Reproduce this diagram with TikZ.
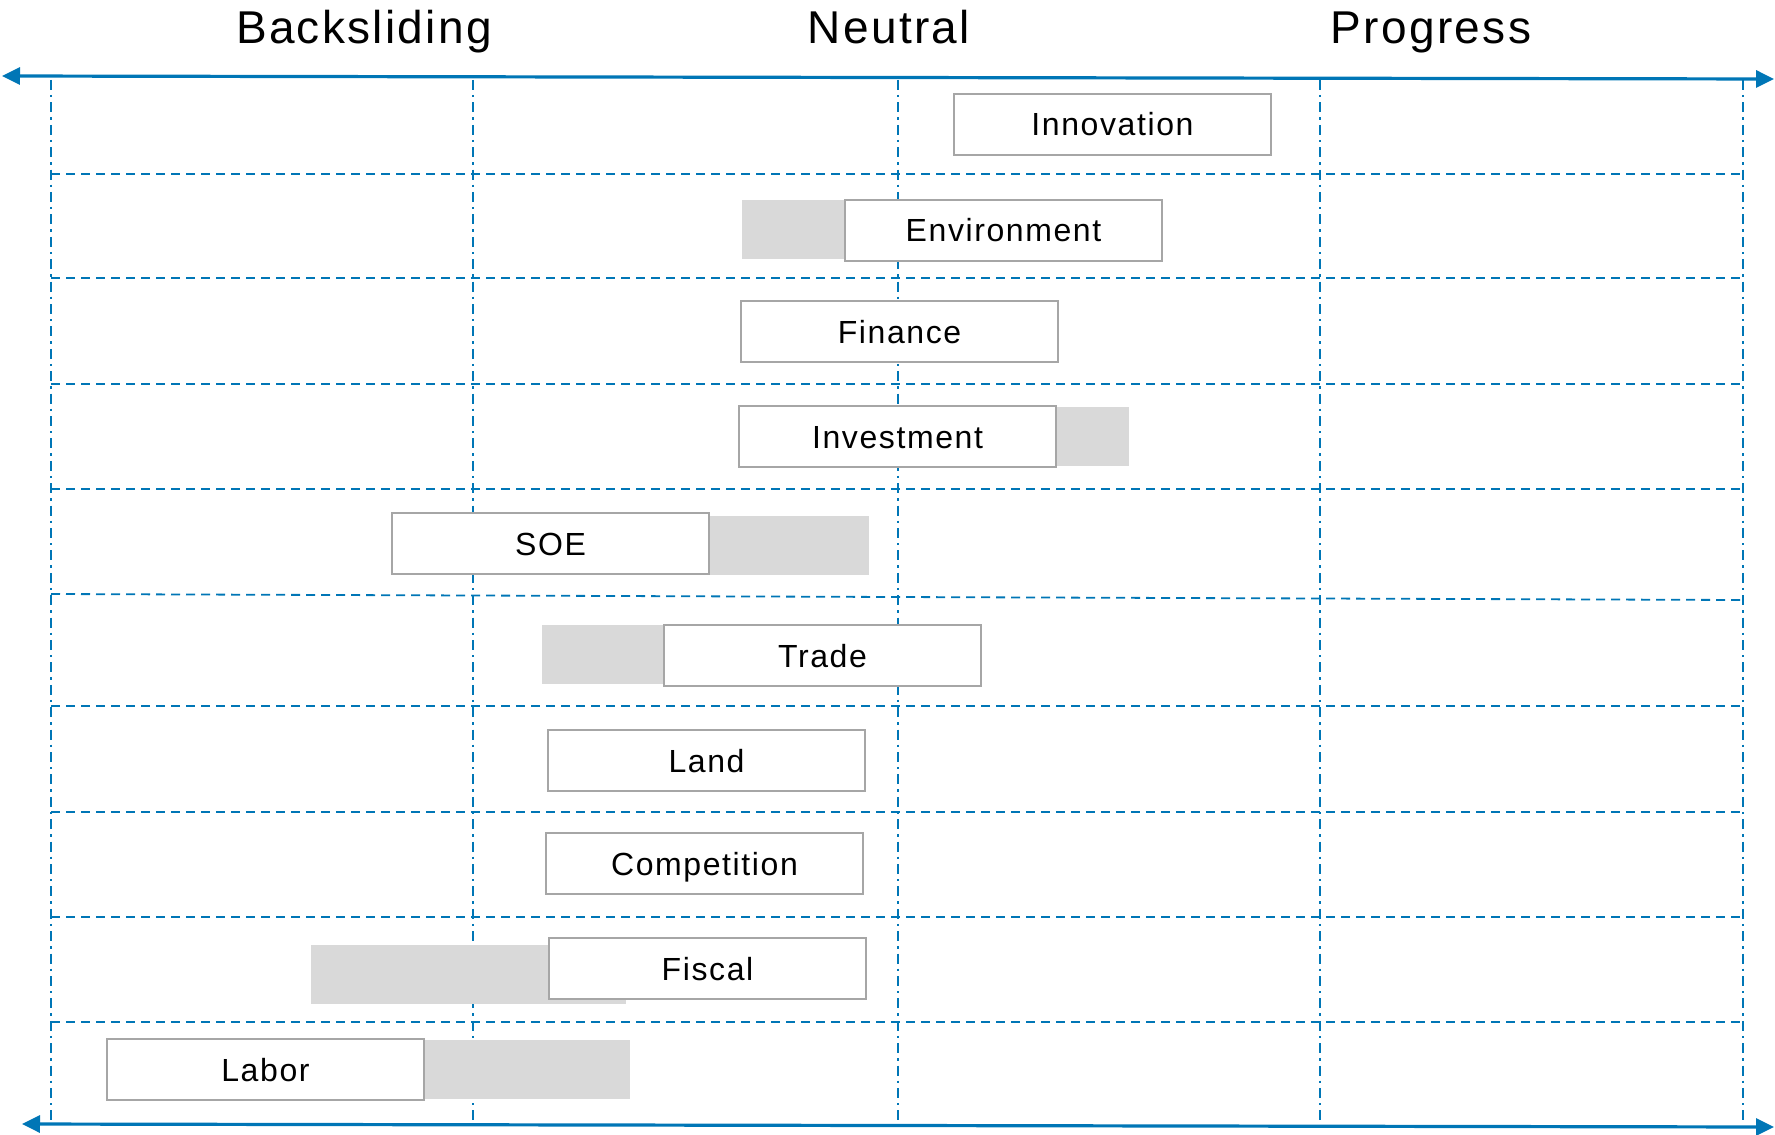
\documentclass[tikz,border=0pt]{standalone}
\usepackage{fontspec}
\setmainfont{Liberation Sans}[LetterSpace=5]
\usetikzlibrary{arrows.meta}
\definecolor{axisblue}{RGB}{0,118,182}
\definecolor{boxgrey}{RGB}{166,166,166}
\definecolor{barfill}{RGB}{217,217,217}
\begin{document}
\begin{tikzpicture}[x=0.5pt,y=-0.5pt,
  gridh/.style={axisblue, line width=0.9pt, dash pattern=on 4.5pt off 3pt},
  gridv/.style={axisblue, line width=0.9pt, dash pattern=on 5pt off 2.5pt on 1.2pt off 2.5pt},
  axisline/.style={axisblue, line width=1.6pt, {Triangle[length=9pt,width=8.5pt]}-{Triangle[length=9pt,width=8.5pt]}},
  head/.style={font=\fontsize{23}{26}\selectfont, anchor=base, inner sep=0pt},
  catbox/.style={draw=boxgrey, line width=1pt, fill=white, minimum width=158.5pt, minimum height=30.5pt,
    inner sep=0pt, anchor=north west, font=\fontsize{16}{18}\selectfont, text height=11.5pt, text depth=0pt},
  shiftbar/.style={fill=barfill, draw=none, minimum width=157.5pt, minimum height=29.5pt, inner sep=0pt, anchor=north west}
]
\useasboundingbox (0,0) rectangle (1775,1134);

% headings
\node[head] (hback) at (364,44) {Backsliding};
\node[head] (hneut) at (889,44) {Neutral};
\node[head] (hprog) at (1431,44) {Progress};

% grid: horizontal dashed lines
\foreach \y [count=\i] in {174,278,384,489,706,812,917,1022}{
  \coordinate (hl\i) at (51,\y);
  \coordinate (hr\i) at (1743,\y);
  \draw[gridh] (hl\i) -- (hr\i);
}
\coordinate (hlm) at (51,594);
\coordinate (hrm) at (1743,600);
\draw[gridh] (hlm) -- (hrm);

% grid: vertical dash-dot lines
\foreach \x [count=\i] in {51,473,898,1320,1743}{
  \coordinate (vt\i) at (\x,80);
  \coordinate (vb\i) at (\x,1123);
  \draw[gridv] (vt\i) -- (vb\i);
}

% axes
\coordinate (atl) at (2,76);
\coordinate (atr) at (1774,79);
\draw[axisline] (atl) -- (atr);
\coordinate (abl) at (22,1124);
\coordinate (abr) at (1774,1127);
\draw[axisline] (abl) -- (abr);

% grey bars (previous positions)
\node[shiftbar] (envbar) at (742,200) {};
\node[shiftbar] (invbar) at (814,407) {};
\node[shiftbar, minimum width=160.5pt] (soebar) at (548,516) {};
\node[shiftbar] (tradebar) at (542,625) {};
\node[shiftbar] (fiscalbar) at (311,945) {};
\node[shiftbar] (laborbar) at (315,1040) {};

% category boxes
\node[catbox] (innovation) at (953,93) {Innovation};
\node[catbox] (environment) at (844,199) {Environment};
\node[catbox] (finance) at (740,300) {Finance};
\node[catbox] (investment) at (738,405) {Investment};
\node[catbox] (soe) at (391,512) {SOE};
\node[catbox] (trade) at (663,624) {Trade};
\node[catbox] (land) at (547,729) {Land};
\node[catbox] (competition) at (545,832) {Competition};
\node[catbox] (fiscal) at (548,937) {Fiscal};
\node[catbox] (labor) at (106,1038) {Labor};
\end{tikzpicture}
\end{document}
